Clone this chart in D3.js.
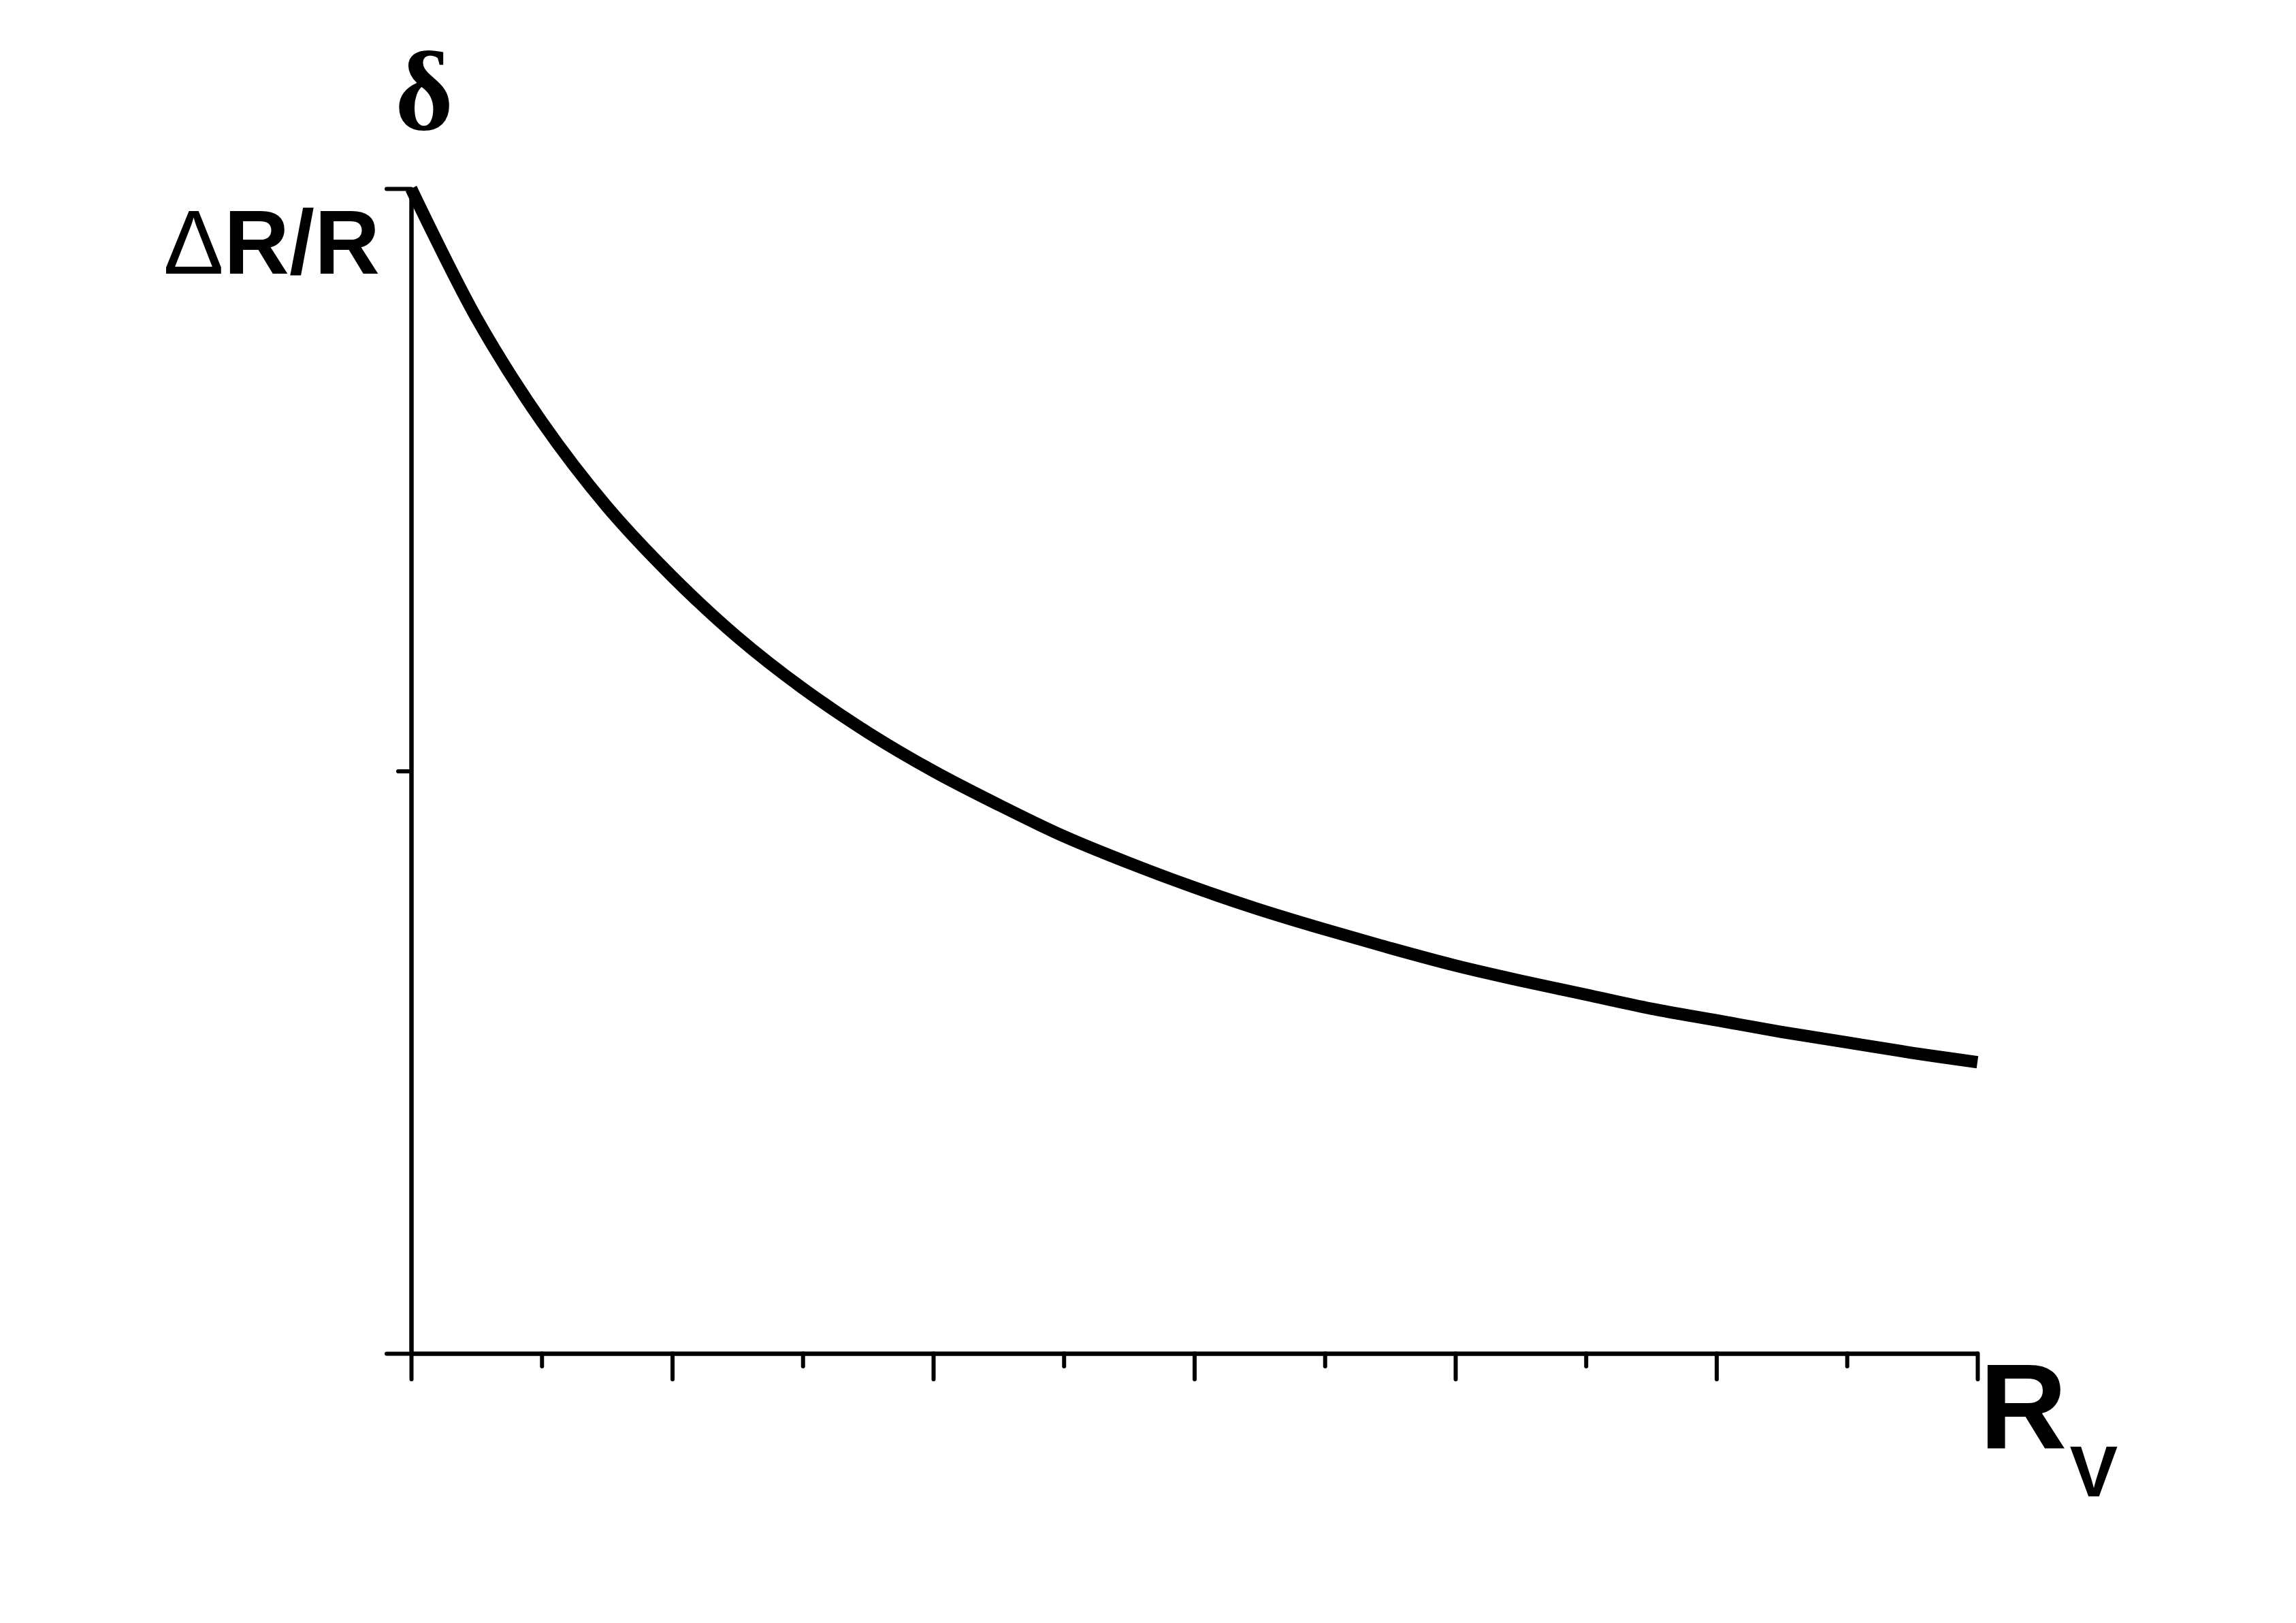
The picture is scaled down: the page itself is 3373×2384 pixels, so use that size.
<!DOCTYPE html>
<html>
<head>
<meta charset="utf-8">
<script src="https://cdn.jsdelivr.net/npm/d3@7"></script>
<style>
  html, body { margin: 0; padding: 0; background: #fff; }
  svg { display: block; }
</style>
</head>
<body>
<svg id="chart" width="3373" height="2384"></svg>
<script>
// Data (x: R_V, y: ΔR/R, arbitrary units)
const rvValues = [0, 0.25, 0.5, 0.75, 1, 1.25, 1.5, 1.75, 2, 2.25, 2.5, 2.75, 3, 3.25, 3.5, 3.75, 4, 4.25, 4.5, 4.75, 5, 5.25, 5.5, 5.75, 6];
const deltaValues = [1.000, 0.889, 0.800, 0.727, 0.667, 0.615, 0.571, 0.533, 0.500, 0.471, 0.444, 0.421, 0.400, 0.381, 0.364, 0.348, 0.333, 0.320, 0.308, 0.296, 0.286, 0.276, 0.267, 0.258, 0.250];
const xMajorTicks = [0, 1, 2, 3, 4, 5, 6];
const xMinorTicks = [0.5, 1.5, 2.5, 3.5, 4.5, 5.5];
const yMajorTicks = [0, 1];
const yMinorTicks = [0.5];

const svg = d3.select("#chart");
const x = d3.scaleLinear().domain([0, 6]).range([604, 2905]);
const y = d3.scaleLinear().domain([0, 1]).range([1988, 277]);

const axisW = 6.5;

function styleAxis(g, sw) {
  g.selectAll("path.domain").attr("stroke", "#000").attr("stroke-width", axisW);
  g.selectAll(".tick line").attr("stroke", "#000").attr("stroke-width", sw).attr("stroke-linecap", "round");
  g.selectAll(".tick text").remove();
}

// x axis minor ticks
svg.append("g").attr("transform", `translate(0,${y(0)})`)
  .call(d3.axisBottom(x).tickValues(xMinorTicks).tickSize(19).tickSizeOuter(0).tickFormat(""))
  .call(g => { g.select("path.domain").remove(); styleAxis(g, 6); });
// x axis major ticks + line
svg.append("g").attr("transform", `translate(0,${y(0)})`)
  .call(d3.axisBottom(x).tickValues(xMajorTicks).tickSize(38).tickSizeOuter(0).tickFormat(""))
  .call(g => styleAxis(g, 6));

// y axis minor ticks
svg.append("g").attr("transform", `translate(${x(0)},0)`)
  .call(d3.axisLeft(y).tickValues(yMinorTicks).tickSize(19).tickSizeOuter(0).tickFormat(""))
  .call(g => { g.select("path.domain").remove(); styleAxis(g, 6); });
// y axis major ticks + line
svg.append("g").attr("transform", `translate(${x(0)},0)`)
  .call(d3.axisLeft(y).tickValues(yMajorTicks).tickSize(36).tickSizeOuter(0).tickFormat(""))
  .call(g => styleAxis(g, 6));

// curve
const pts = rvValues.map((v, i) => [v, deltaValues[i]]);
const line = d3.line().x(d => x(d[0])).y(d => y(d[1])).curve(d3.curveCatmullRom.alpha(0.5));
svg.append("path")
  .datum(pts)
  .attr("d", line)
  .attr("fill", "none")
  .attr("stroke", "#000")
  .attr("stroke-width", 18)
  .attr("stroke-linejoin", "round");

// labels
svg.append("text")
  .attr("x", 623).attr("y", 190)
  .attr("text-anchor", "middle")
  .attr("font-family", "Liberation Serif, serif")
  .attr("font-weight", "bold")
  .attr("font-size", 165)
  .text("δ");

const yl = svg.append("text")
  .attr("x", 558).attr("y", 402)
  .attr("text-anchor", "end")
  .attr("font-family", "Liberation Sans, Arial, sans-serif")
  .attr("font-size", 133);
yl.append("tspan").attr("font-weight", "normal").text("Δ");
yl.append("tspan").attr("font-weight", "bold").text("R/R");

const xl = svg.append("text")
  .attr("x", 2908).attr("y", 2128)
  .attr("font-family", "Liberation Sans, Arial, sans-serif");
xl.append("tspan").attr("font-weight", "bold").attr("font-size", 178).text("R");
xl.append("tspan").attr("font-weight", "bold").attr("font-size", 106).attr("dy", 70).attr("dx", 4).text("V");
</script>
</body>
</html>
